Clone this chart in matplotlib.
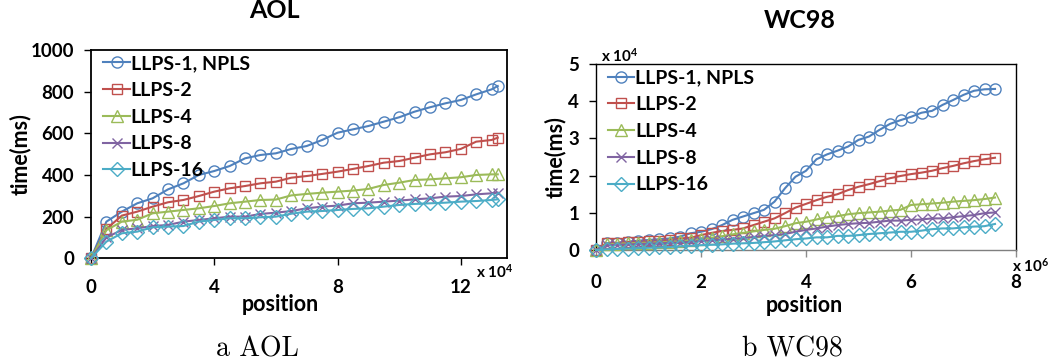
import numpy as np
import matplotlib
matplotlib.use("Agg")
import matplotlib.pyplot as plt

plt.rcParams["font.family"] = ["Lato", "DejaVu Sans"]
plt.rcParams["font.weight"] = "bold"
plt.rcParams["mathtext.fontset"] = "custom"
plt.rcParams["mathtext.rm"] = "Lato:bold"
plt.rcParams["mathtext.bf"] = "Lato:bold"
plt.rcParams["mathtext.it"] = "Lato:bold"

# ---------------- data ----------------
series_names = ["LLPS-1, NPLS", "LLPS-2", "LLPS-4", "LLPS-8", "LLPS-16"]

# AOL: position in units of 10^4, time in ms
aol_pos = [0, 0.5, 1, 1.5, 2, 2.5, 3, 3.5, 4, 4.5, 5, 5.5, 6, 6.5, 7, 7.5, 8,
           8.5, 9, 9.5, 10, 10.5, 11, 11.5, 12, 12.5, 13, 13.2]
aol_llps1 = [0, 176, 224, 264, 288, 331, 360, 400, 419, 443, 480, 496, 504, 525,
             539, 568, 603, 619, 635, 656, 677, 704, 725, 744, 760, 787, 811, 827]
aol_llps2 = [0, 141, 205, 224, 248, 269, 280, 299, 320, 336, 347, 360, 368, 387,
             395, 405, 416, 429, 443, 459, 467, 483, 499, 509, 525, 560, 568, 579]
aol_llps4 = [0, 135, 176, 185, 216, 224, 232, 240, 251, 264, 272, 280, 282, 302,
             309, 315, 320, 325, 333, 352, 363, 376, 379, 384, 389, 400, 403, 403]
aol_llps8 = [0, 100, 136, 144, 155, 160, 176, 184, 192, 200, 200, 213, 219, 227,
             240, 248, 253, 264, 267, 272, 277, 283, 288, 296, 299, 307, 312, 315]
aol_llps16 = [0, 80, 120, 128, 149, 152, 155, 176, 184, 192, 192, 197, 200, 214,
              224, 227, 232, 237, 240, 248, 256, 261, 264, 267, 272, 275, 280, 283]

# WC98: position in units of 10^6, time in units of 10^4 ms
wc_pos = [0, 0.2, 0.4, 0.6, 0.8, 1.0, 1.2, 1.4, 1.6, 1.8, 2.0, 2.2, 2.4, 2.6,
          2.8, 3.0, 3.2, 3.4, 3.6, 3.8, 4.0, 4.2, 4.4, 4.6, 4.8, 5.0, 5.2, 5.4,
          5.6, 5.8, 6.0, 6.2, 6.4, 6.6, 6.8, 7.0, 7.2, 7.4, 7.6]
wc_llps1 = [0, 0.18, 0.19, 0.22, 0.25, 0.27, 0.29, 0.31, 0.36, 0.45, 0.49, 0.56,
            0.67, 0.81, 0.90, 0.99, 1.08, 1.30, 1.66, 1.97, 2.13, 2.44, 2.57,
            2.67, 2.78, 2.96, 3.05, 3.23, 3.39, 3.49, 3.58, 3.69, 3.74, 3.90,
            4.03, 4.17, 4.28, 4.32, 4.33]
wc_llps2 = [0, 0.18, 0.19, 0.21, 0.22, 0.24, 0.25, 0.27, 0.31, 0.33, 0.40, 0.46,
            0.51, 0.54, 0.58, 0.67, 0.76, 0.85, 0.99, 1.14, 1.24, 1.34, 1.43,
            1.50, 1.61, 1.70, 1.77, 1.85, 1.93, 1.99, 2.04, 2.08, 2.13, 2.20,
            2.26, 2.33, 2.39, 2.44, 2.48]
wc_llps4 = [0, 0.15, 0.17, 0.18, 0.19, 0.20, 0.21, 0.22, 0.24, 0.26, 0.30, 0.33,
            0.37, 0.42, 0.46, 0.50, 0.54, 0.57, 0.64, 0.72, 0.76, 0.82, 0.88,
            0.91, 0.96, 0.99, 1.01, 1.03, 1.06, 1.08, 1.21, 1.23, 1.25, 1.27,
            1.30, 1.32, 1.34, 1.37, 1.41]
wc_llps8 = [0, 0.13, 0.14, 0.15, 0.16, 0.17, 0.18, 0.19, 0.20, 0.22, 0.24, 0.26,
            0.28, 0.30, 0.32, 0.35, 0.38, 0.40, 0.43, 0.49, 0.54, 0.58, 0.63,
            0.67, 0.70, 0.72, 0.73, 0.76, 0.79, 0.79, 0.81, 0.82, 0.85, 0.85,
            0.88, 0.91, 0.94, 0.99, 1.01]
wc_llps16 = [0, 0.02, 0.03, 0.04, 0.05, 0.06, 0.07, 0.08, 0.10, 0.11, 0.13, 0.14,
             0.15, 0.17, 0.18, 0.19, 0.21, 0.23, 0.26, 0.29, 0.31, 0.34, 0.34,
             0.38, 0.38, 0.40, 0.43, 0.45, 0.47, 0.49, 0.49, 0.52, 0.56, 0.58,
             0.58, 0.61, 0.63, 0.64, 0.70]

aol_xticks = [0, 4, 8, 12]
aol_yticks = [0, 200, 400, 600, 800, 1000]
wc_xticks = [0, 2, 4, 6, 8]
wc_yticks = [0, 1, 2, 3, 4, 5]

# ---------------- styles ----------------
colors = ["#4F81BD", "#C0504D", "#9BBB59", "#8064A2", "#4BACC6"]
markers = ["o", "s", "^", "x", "D"]
msizes = [8, 7.5, 8.5, 6.5, 7]

W, H = 1058, 364
fig = plt.figure(figsize=(W / 100, H / 100), dpi=100)


def px_axes(x0, y0, x1, y1):
    return fig.add_axes([x0 / W, 1 - y1 / H, (x1 - x0) / W, (y1 - y0) / H])


def draw_panel(ax, x, ys, spine_w):
    for y, c, m, s, name in zip(ys, colors, markers, msizes, series_names):
        ax.plot(x, y, color=c, lw=1.5, marker=m, ms=s, mfc="none", mec=c,
                mew=1.0, label=name, clip_on=False, zorder=3)
    for sp in ax.spines.values():
        sp.set_linewidth(spine_w)
        sp.set_color("black")
    ax.tick_params(direction="out", length=5, width=1.0, labelsize=13.5,
                   pad=7)
    for lab in ax.get_xticklabels() + ax.get_yticklabels():
        lab.set_fontweight("bold")


legend_kw = dict(loc="upper left", frameon=False, handlelength=1.35,
                 handletextpad=0.05, labelspacing=0.5, borderpad=0,
                 borderaxespad=0, prop={"weight": "bold", "size": 14})

# AOL panel
ax1 = px_axes(91, 50, 507, 258.3)
draw_panel(ax1, aol_pos, [aol_llps1, aol_llps2, aol_llps4, aol_llps8, aol_llps16], 1.3)
ax1.set_xlim(0, 13.5)
ax1.set_ylim(0, 1000)
ax1.set_xticks(aol_xticks)
ax1.set_yticks(aol_yticks)
ax1.tick_params(axis="x", pad=10)
ax1.set_xlabel("position", fontsize=15.5, fontweight="bold", va="center")
ax1.xaxis.set_label_coords(0.455, -0.22)
ax1.set_ylabel("time(ms)", fontsize=15.5, fontweight="bold", va="center")
ax1.yaxis.set_label_coords(-0.17, 0.5)
ax1.set_title("AOL", fontsize=18, fontweight="bold", x=0.442, y=1.15, va="center")
ax1.text(0.97, -0.063, r"x 10$^{4}$", transform=ax1.transAxes, fontsize=11,
         fontweight="bold", ha="center", va="center")
ax1.legend(bbox_to_anchor=(0.03, 0.975), **legend_kw)

# WC98 panel
ax2 = px_axes(596, 64, 1016, 250)
draw_panel(ax2, wc_pos, [wc_llps1, wc_llps2, wc_llps4, wc_llps8, wc_llps16], 1.0)
ax2.set_xlim(0, 8)
ax2.set_ylim(0, 5)
ax2.set_xticks(wc_xticks)
ax2.set_yticks(wc_yticks)
ax2.tick_params(axis="x", pad=12, color="#8c8c8c")
ax2.spines["bottom"].set_color("#7f7f7f")
ax2.set_xlabel("position", fontsize=15.5, fontweight="bold", va="center")
ax2.xaxis.set_label_coords(0.495, -0.3)
ax2.set_ylabel("time(ms)", fontsize=15.5, fontweight="bold", va="center")
ax2.yaxis.set_label_coords(-0.097, 0.5)
ax2.set_title("WC98", fontsize=18, fontweight="bold", x=0.486, y=1.19, va="center")
ax2.text(1.036, -0.086, r"x 10$^{6}$", transform=ax2.transAxes, fontsize=11,
         fontweight="bold", ha="center", va="center")
ax2.text(0.057, 1.047, r"x 10$^{4}$", transform=ax2.transAxes, fontsize=11,
         fontweight="bold", ha="center", va="center")
ax2.legend(bbox_to_anchor=(0.028, 0.97), **legend_kw)

# sub-figure captions
fig.text(257 / W, 1 - 349 / H, "a AOL", family="cmr10", fontsize=20,
         fontweight="normal", ha="center", va="center")
fig.text(792 / W, 1 - 349 / H, "b WC98", family="cmr10", fontsize=20,
         fontweight="normal", ha="center", va="center")

fig.savefig("out.png", dpi=100)
